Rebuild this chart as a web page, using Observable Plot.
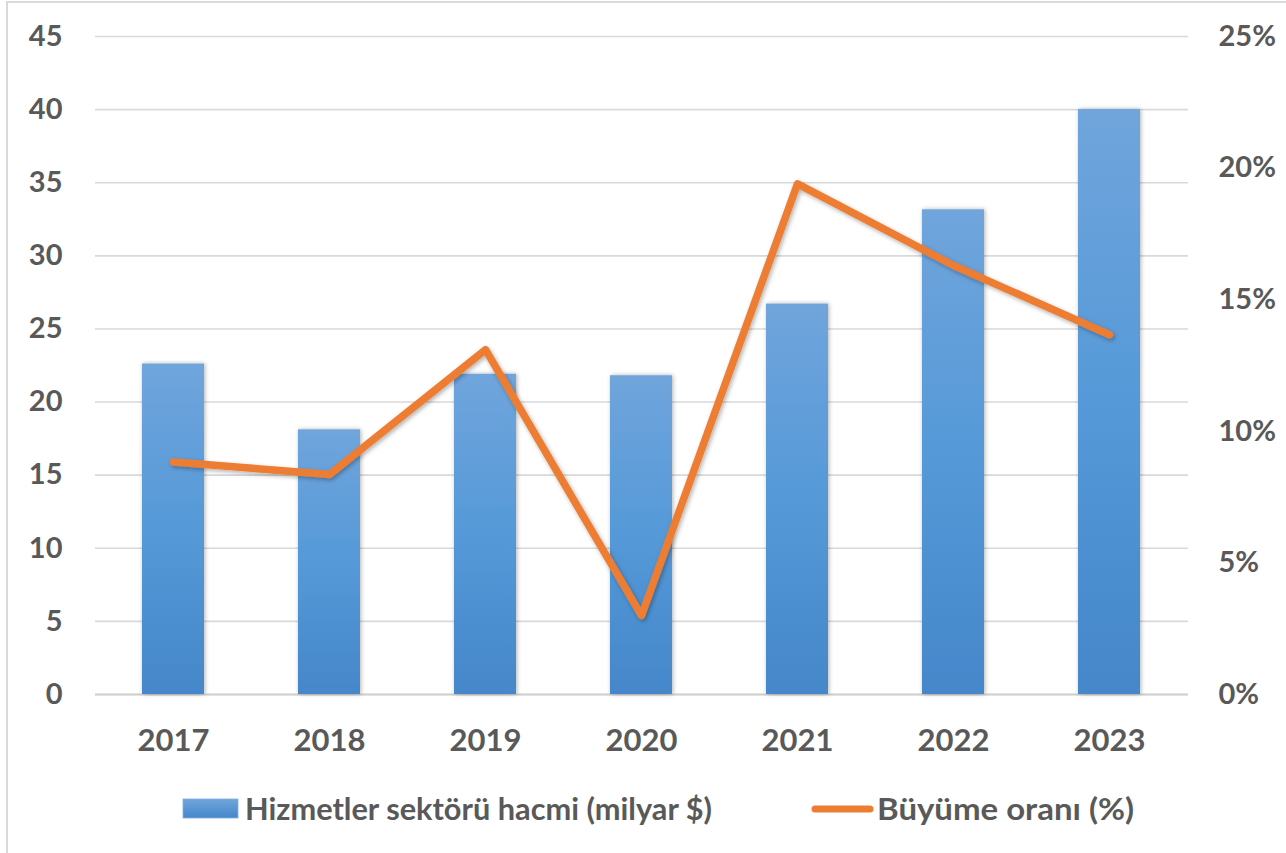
<!DOCTYPE html>
<html><head><meta charset="utf-8">
<script src="https://cdn.jsdelivr.net/npm/d3@7"></script>
<script src="https://cdn.jsdelivr.net/npm/@observablehq/plot@0.6"></script>
<style>
body{margin:0;background:#fff;width:1286px;height:853px;overflow:hidden;position:relative;}
#frameTop{position:absolute;left:6px;top:1px;width:1290px;height:2px;background:#d9d9d9;}
#frameLeft{position:absolute;left:6px;top:1px;width:2px;height:860px;background:#d9d9d9;}
#chart{position:absolute;left:0;top:0;}
#legend{position:absolute;left:0;top:770px;}
</style></head><body>
<div id="frameTop"></div><div id="frameLeft"></div>
<div id="chart"></div><div id="legend"></div>
<script>
const years = ["2017", "2018", "2019", "2020", "2021", "2022", "2023"];
const volume = [22.6, 18.1, 21.9, 21.8, 26.7, 33.15, 40.0];
const growth = [8.83, 8.36, 13.1, 3.0, 19.4, 16.3, 13.67];
const leftTicks = [0, 5, 10, 15, 20, 25, 30, 35, 40, 45];
const rightTicks = [0, 5, 10, 15, 20, 25];
const seriesNames = ["Hizmetler sektörü hacmi (milyar $)", "Büyüme oranı (%)"];

const ratio = 45 / 25;
const barData = years.map((y, i) => ({year: y, value: volume[i]}));
const lineData = years.map((y, i) => ({year: y, value: growth[i] * ratio}));
const font = "Lato, 'Open Sans', sans-serif";
const textColor = "#595959";

const plot = Plot.plot({
  width: 1286, height: 770,
  marginLeft: 95, marginRight: 98, marginTop: 36, marginBottom: 76,
  style: {fontFamily: font, color: textColor, background: "transparent", overflow: "visible"},
  x: {domain: years, paddingInner: 0.6, paddingOuter: 0.3, label: null},
  y: {domain: [0, 45], label: null},
  marks: [
    Plot.gridY(leftTicks, {stroke: "#d9d9d9", strokeOpacity: 1, strokeWidth: 1.6}),
    Plot.ruleY([0], {stroke: "#d0d0d0", strokeWidth: 2}),
    Plot.barY(barData, {x: "year", y: "value", fill: "url(#barGrad)"}),
    Plot.line(lineData, {x: "year", y: "value", stroke: "#ed7d31", strokeWidth: 7.5, strokeLinejoin: "round", strokeLinecap: "round"}),
    Plot.axisY(leftTicks, {anchor: "left", tickSize: 0, tickPadding: 33, fontSize: 29, fontWeight: "bold", fill: textColor, label: null}),
    Plot.axisY(rightTicks.map(v => v * ratio), {anchor: "right", tickSize: 0, tickPadding: 30, fontSize: 29, fontWeight: "bold", fill: textColor, label: null, tickFormat: d => Math.round(d / ratio) + "%"}),
    Plot.axisX({anchor: "bottom", tickSize: 0, tickPadding: 34, fontSize: 31, fontWeight: "bold", fill: textColor, label: null})
  ]
});

const svg = d3.select(plot);
svg.insert("defs", ":first-child").html(`
  <linearGradient id="barGrad" x1="0" y1="0" x2="0" y2="1" gradientUnits="objectBoundingBox">
    <stop offset="0" stop-color="#70a5dc"/>
    <stop offset="0.5" stop-color="#5599d8"/>
    <stop offset="1" stop-color="#4587ca"/>
  </linearGradient>
  <filter id="barShadow" x="-20%" y="-5%" width="140%" height="110%">
    <feDropShadow dx="1" dy="0" stdDeviation="2" flood-color="#000" flood-opacity="0.3"/>
  </filter>
  <filter id="lineShadow" x="-5%" y="-5%" width="110%" height="110%">
    <feDropShadow dx="1.5" dy="2" stdDeviation="2" flood-color="#000" flood-opacity="0.3"/>
  </filter>`);
svg.selectAll("g[aria-label='bar']").attr("filter", "url(#barShadow)");
svg.selectAll("g[aria-label='line']").attr("filter", "url(#lineShadow)");
document.getElementById("chart").appendChild(plot);

// legend below the chart
const lg = d3.select("#legend").append("svg").attr("width", 1286).attr("height", 83)
  .style("font-family", font).style("overflow", "visible");
lg.append("defs").html(`
  <linearGradient id="legGrad" x1="0" y1="0" x2="0" y2="1">
    <stop offset="0" stop-color="#70a5dc"/>
    <stop offset="1" stop-color="#4587ca"/>
  </linearGradient>`);
lg.append("rect").attr("x", 183).attr("y", 29).attr("width", 55).attr("height", 19).attr("fill", "url(#legGrad)").attr("stroke", "#7fb0e0").attr("stroke-width", 0.8);
lg.append("text").attr("x", 245).attr("y", 50).attr("font-size", 31).attr("font-weight", "bold").attr("fill", textColor)
  .attr("textLength", 467).attr("lengthAdjust", "spacingAndGlyphs").text(seriesNames[0]);
lg.append("line").attr("x1", 815).attr("x2", 870).attr("y1", 39).attr("y2", 39).attr("stroke", "#ed7d31").attr("stroke-width", 7).attr("stroke-linecap", "round");
lg.append("text").attr("x", 877).attr("y", 50).attr("font-size", 31).attr("font-weight", "bold").attr("fill", textColor)
  .attr("textLength", 257).attr("lengthAdjust", "spacingAndGlyphs").text(seriesNames[1]);
</script>
</body></html>
